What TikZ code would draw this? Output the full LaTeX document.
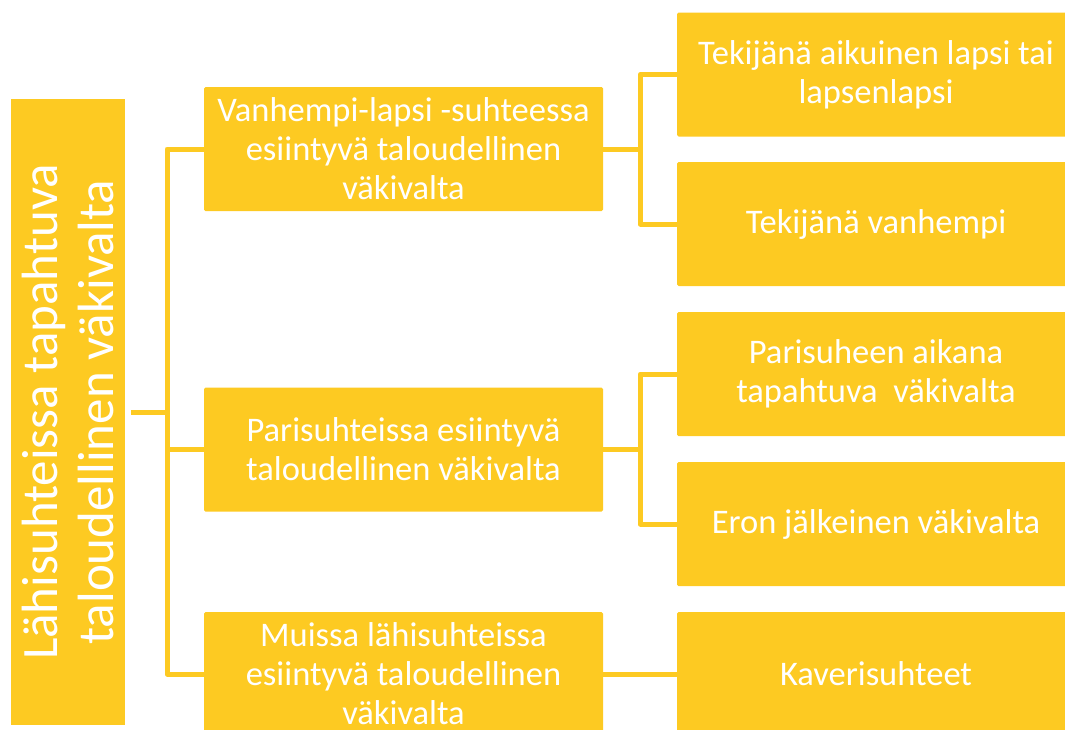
\documentclass[tikz,border=0pt]{standalone}
\usepackage{fontspec}
\setmainfont{Carlito}
\usetikzlibrary{positioning}
\definecolor{goldbox}{HTML}{FDCA22}
\tikzset{
    box/.style = {
        fill=goldbox, text=white, rounded corners=1.5pt, align=center,
        minimum height=124pt, inner sep=0pt,
        font=\fontsize{34.5}{39}\selectfont
    },
    midbox/.style = {box, minimum width=399pt},
    leafbox/.style = {box, minimum width=398pt},
    link/.style = {line width=5pt, goldbox, line join=round}
}
\begin{document}
\begin{tikzpicture}[x=1pt, y=-1pt]
    \useasboundingbox (0,0) rectangle (1065,729);
    \clip (0,0) rectangle (1065,729);
    \node[box, rotate=90, minimum width=626pt, minimum height=114pt, rounded corners=0pt,
        font=\fontsize{51}{56}\selectfont] (root) at (68,412) {L\"ahisuhteissa tapahtuva\\taloudellinen v\"akivalta};
    \node[midbox] (mid1) at (403.5,149) {Vanhempi-lapsi -suhteessa\\esiintyv\"a taloudellinen\\v\"akivalta};
    \node[midbox] (mid2) at (403.5,449.5) {Parisuhteissa esiintyv\"a\\taloudellinen v\"akivalta};
    \node[midbox] (mid3) at (403.5,674) {Muissa l\"ahisuhteissa\\esiintyv\"a taloudellinen\\v\"akivalta};
    \node[leafbox] (leaf1) at (876,74.5) {Tekij\"an\"a aikuinen lapsi tai\\lapsenlapsi};
    \node[leafbox] (leaf2) at (876,224) {Tekij\"an\"a vanhempi};
    \node[leafbox] (leaf3) at (876,374) {Parisuheen aikana\\tapahtuva\ \ v\"akivalta};
    \node[leafbox] (leaf4) at (876,524) {Eron j\"alkeinen v\"akivalta};
    \node[leafbox] (leaf5) at (876,674) {Kaverisuhteet};
    \coordinate (lspine) at (167,412);
    \draw[link] ([xshift=6pt]root.south) -- (lspine);
    \draw[link] (mid1.west) -| (lspine) |- (mid3.west);
    \draw[link] (lspine |- mid2.west) -- (mid2.west);
    \draw[link] (mid1.east) -- ([xshift=37pt]mid1.east) coordinate (rspineA);
    \draw[link] (leaf1.west) -| (rspineA) |- (leaf2.west);
    \draw[link] (mid2.east) -- ([xshift=37pt]mid2.east) coordinate (rspineB);
    \draw[link] (leaf3.west) -| (rspineB) |- (leaf4.west);
    \draw[link] (mid3.east) -- (leaf5.west);
\end{tikzpicture}
\end{document}
